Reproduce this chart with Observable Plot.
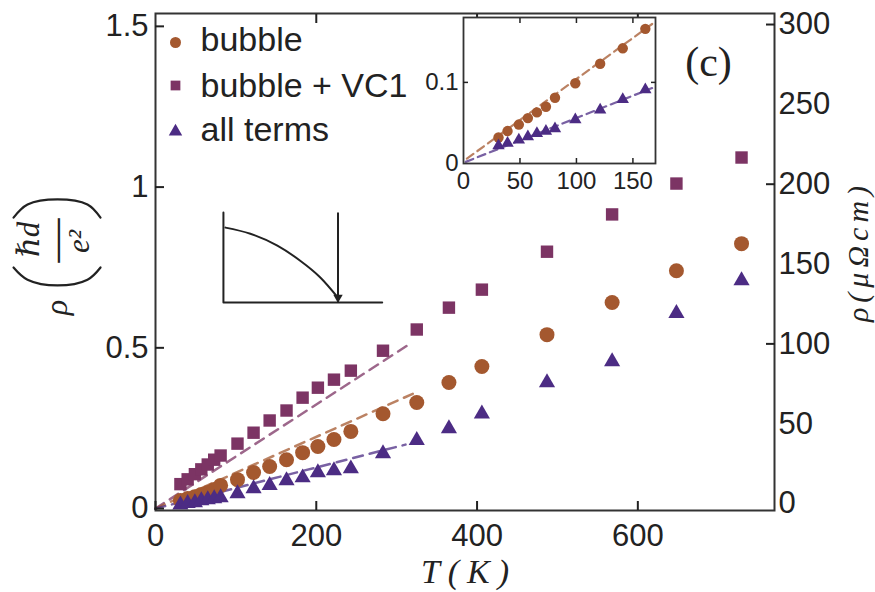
<!DOCTYPE html>
<html><head><meta charset="utf-8">
<script src="https://cdn.jsdelivr.net/npm/d3@7"></script>
<script src="https://cdn.jsdelivr.net/npm/@observablehq/plot@0.6"></script>
<style>
html,body{margin:0;padding:0;background:#fff;}
#wrap{position:relative;width:875px;height:592px;overflow:hidden;background:#fff;}
#main{position:absolute;left:0;top:0;}
#inset{position:absolute;left:423px;top:15px;}
</style></head><body><div id="wrap"><div id="main"></div><div id="inset"></div></div>
<script>
// ---- main panel data (T in K, rho in hd/e^2) ----
const temperature = [31, 40, 49, 57, 65, 73, 81, 102, 122, 142, 163, 183, 202, 222, 243, 283, 325, 365, 406, 487, 568, 648, 729];
const bubbleVC1 = [0.076, 0.091, 0.107, 0.122, 0.137, 0.152, 0.165, 0.202, 0.236, 0.274, 0.305, 0.345, 0.376, 0.401, 0.429, 0.491, 0.557, 0.625, 0.681, 0.799, 0.915, 1.011, 1.092];
const bubble = [0.025, 0.031, 0.037, 0.044, 0.050, 0.059, 0.072, 0.090, 0.112, 0.131, 0.152, 0.174, 0.193, 0.215, 0.240, 0.295, 0.330, 0.392, 0.442, 0.541, 0.641, 0.740, 0.824];
const allTerms = [0.012, 0.016, 0.019, 0.025, 0.028, 0.031, 0.034, 0.047, 0.062, 0.072, 0.087, 0.096, 0.112, 0.118, 0.124, 0.171, 0.212, 0.249, 0.295, 0.392, 0.457, 0.607, 0.709];
// dashed linear fits (end points)
const fitBubbleVC1 = [{T: 0, rho: 0}, {T: 315, rho: 0.51}];
const fitBubble = [{T: 0, rho: 0}, {T: 320, rho: 0.357}];
const fitAllTerms = [{T: 0, rho: 0}, {T: 311, rho: 0.199}];

// ---- inset data ----
const insetTemperature = [31, 39, 49, 57, 65, 73, 81, 99, 121, 141, 161];
const insetBubble = [0.032, 0.040, 0.048, 0.056, 0.063, 0.070, 0.081, 0.099, 0.123, 0.142, 0.166];
const insetAllTerms = [0.022, 0.025, 0.029, 0.033, 0.037, 0.040, 0.043, 0.054, 0.066, 0.079, 0.091];
const insetFitBubble = [{T: 3, rho: 0.006}, {T: 168, rho: 0.173}];
const insetFitAllTerms = [{T: 2, rho: 0.002}, {T: 167, rho: 0.093}];

// ---- ticks ----
const xTicks = [0, 200, 400, 600];
const yTicks = [0, 0.5, 1, 1.5];
const rightTicks = [0, 50, 100, 150, 200, 250, 300];
const rightMajorTicks = [100, 200, 300];
const rightZero = 0.0156, rightStep = 0.004967; // right axis (μΩcm) in left-axis units
const insetXTicks = [0, 50, 100, 150];
const insetYTicks = [0, 0.1];

// ---- legend ----
const legendLabels = ["bubble", "bubble + VC1", "all terms"];
const legendSymbols = ["circle", "square", "triangle"];

// ---- schematic sketch inside the main panel ----
const schematicFrame = [{T: 84.5, rho: 0.921}, {T: 84.5, rho: 0.641}, {T: 282, rho: 0.641}];
const schematicCurve = [{T: 87, rho: 0.874}, {T: 118, rho: 0.855}, {T: 151.6, rho: 0.818}, {T: 180, rho: 0.771}, {T: 205, rho: 0.719}, {T: 227, rho: 0.656}];
const schematicArrow = [{T: 227, top: 0.921, tip: 0.641}];

// ---- large delimiters of the left axis title (drawn as arcs, left of the frame) ----
const delimiterTop = [{T: -176.6, rho: 0.905}, {T: -159.2, rho: 0.946}, {T: -121.9, rho: 0.962}, {T: -84.6, rho: 0.946}, {T: -68.4, rho: 0.905}];
const delimiterBottom = [{T: -176.6, rho: 0.750}, {T: -159.2, rho: 0.712}, {T: -121.9, rho: 0.694}, {T: -84.6, rho: 0.712}, {T: -68.4, rho: 0.750}];

const colors = {bubble: "#a4582f", vc1: "#7c3464", all: "#4c2c84"};
const ink = "#222";

const mainRows = temperature.map((T, i) => ({T, bubble: bubble[i], vc1: bubbleVC1[i], all: allTerms[i]}));
const insetRows = insetTemperature.map((T, i) => ({T, bubble: insetBubble[i], all: insetAllTerms[i]}));
const toLeft = v => rightZero + v * rightStep;

const legendColors = [colors.bubble, colors.vc1, colors.all];
const legendMarkerDy = [29, 72, 118];
const legendTextDy = [27, 73, 117];
const legendR = [5.5, 5.5, 5];

const serif = "Liberation Serif, DejaVu Serif, serif";
// render hook that widens math-style titles (letter spacing)
const spaced = px => function (index, scales, values, dimensions, context, next) {
  const g = next(index, scales, values, dimensions, context);
  if (g) g.setAttribute("letter-spacing", px + "px");
  return g;
};

const main = Plot.plot({
  width: 875, height: 592,
  marginLeft: 155, marginRight: 101, marginTop: 13, marginBottom: 82,
  x: {domain: [0, 770]},
  y: {domain: [-0.006, 1.540]},
  style: {fontFamily: "Liberation Sans, Arial, sans-serif", fontSize: "31px", color: ink, background: "white", overflow: "visible"},
  marks: [
    Plot.line(fitBubbleVC1, {x: "T", y: "rho", stroke: colors.vc1, strokeWidth: 2.5, strokeDasharray: "10,7", strokeOpacity: 0.75}),
    Plot.line(fitBubble, {x: "T", y: "rho", stroke: colors.bubble, strokeWidth: 2.5, strokeDasharray: "10,7", strokeOpacity: 0.75}),
    Plot.line(fitAllTerms, {x: "T", y: "rho", stroke: colors.all, strokeWidth: 2.5, strokeDasharray: "10,7", strokeOpacity: 0.75}),
    Plot.dot(mainRows, {x: "T", y: "vc1", symbol: "square", r: 7, fill: colors.vc1}),
    Plot.dot(mainRows, {x: "T", y: "bubble", symbol: "circle", r: 7.5, fill: colors.bubble}),
    Plot.dot(mainRows, {x: "T", y: "all", symbol: "triangle", r: 6, fill: colors.all}),
    // schematic
    Plot.line(schematicFrame, {x: "T", y: "rho", stroke: ink, strokeWidth: 2}),
    Plot.line(schematicCurve, {x: "T", y: "rho", curve: "natural", stroke: ink, strokeWidth: 2}),
    Plot.link(schematicArrow, {x1: "T", x2: "T", y1: "top", y2: "tip", stroke: ink, strokeWidth: 2}),
    Plot.dot(schematicArrow, {x: "T", y: "tip", symbol: "triangle", rotate: 180, r: 3.5, dy: -5, fill: ink}),
    // legend
    ...legendLabels.map((label, i) => Plot.dot([label], {frameAnchor: "top-left", dx: 20, dy: legendMarkerDy[i], symbol: legendSymbols[i], r: legendR[i], fill: legendColors[i]})),
    ...legendLabels.map((label, i) => Plot.text([label], {frameAnchor: "top-left", dx: 45, dy: legendTextDy[i], text: d => d, textAnchor: "start", lineAnchor: "middle", fontSize: 34, fill: ink})),
    // panel tag
    Plot.text(["(c)"], {frameAnchor: "top-right", dx: -66, dy: 49, text: d => d, fontFamily: serif, fontSize: 42, textAnchor: "middle", lineAnchor: "middle", fill: ink}),
    // frame and axes
    Plot.frame({stroke: "#333", strokeWidth: 2}),
    Plot.axisY(yTicks, {anchor: "left", tickSize: -9, tickPadding: 16, tickFormat: d => String(d), label: null, strokeWidth: 2}),
    Plot.axisX(xTicks, {anchor: "bottom", tickSize: -9, tickPadding: 22, tickFormat: d => String(d), label: null, strokeWidth: 2}),
    Plot.axisX(xTicks.filter(d => d > 0), {anchor: "top", tickSize: -9, tickFormat: () => "", label: null, strokeWidth: 2}),
    Plot.axisY(rightTicks.map(toLeft), {anchor: "right", tickSize: 0, tickPadding: 4, tickFormat: d => String(Math.round((d - rightZero) / rightStep)), label: null}),
    Plot.axisY(rightMajorTicks.map(toLeft), {anchor: "right", tickSize: -9, tickFormat: () => "", label: null, strokeWidth: 2}),
    // axis titles
    Plot.text(["T(K)"], {frameAnchor: "bottom", dx: 4, dy: 62, text: d => d, fontFamily: serif, fontStyle: "italic", fontSize: 34, textAnchor: "middle", lineAnchor: "middle", fill: ink, render: spaced(8)}),
    Plot.text(["ρ(μΩcm)"], {frameAnchor: "top-right", dx: 84, dy: 238, rotate: -90, text: d => d, fontFamily: serif, fontStyle: "italic", fontSize: 30, textAnchor: "middle", lineAnchor: "middle", fill: ink, render: spaced(5)}),
    Plot.text(["ρ"], {frameAnchor: "top-left", dx: -99, dy: 294, rotate: -90, text: d => d, fontFamily: serif, fontStyle: "italic", fontSize: 32, textAnchor: "middle", lineAnchor: "middle", fill: ink}),
    Plot.line(delimiterTop, {x: "T", y: "rho", curve: "catmull-rom", stroke: ink, strokeWidth: 2.2}),
    Plot.line(delimiterBottom, {x: "T", y: "rho", curve: "catmull-rom", stroke: ink, strokeWidth: 2.2}),
    Plot.text(["ℏd"], {frameAnchor: "top-left", dx: -126, dy: 226, rotate: -90, text: d => d, fontFamily: serif, fontStyle: "italic", fontSize: 31, textAnchor: "middle", lineAnchor: "middle", fill: ink}),
    Plot.text(["—"], {frameAnchor: "top-left", dx: -101, dy: 227, rotate: -90, text: d => d, fontFamily: serif, fontSize: 44, textAnchor: "middle", lineAnchor: "middle", fill: ink}),
    Plot.text(["e²"], {frameAnchor: "top-left", dx: -76, dy: 228, rotate: -90, text: d => d, fontFamily: serif, fontStyle: "italic", fontSize: 31, textAnchor: "middle", lineAnchor: "middle", fill: ink})
  ]
});
document.getElementById("main").append(main);

const inset = Plot.plot({
  width: 236, height: 178,
  marginLeft: 40, marginRight: 4, marginTop: 2, marginBottom: 30,
  x: {domain: [0, 170]},
  y: {domain: [0, 0.18]},
  style: {fontFamily: "Liberation Sans, Arial, sans-serif", fontSize: "24px", color: ink, background: "transparent", overflow: "visible"},
  marks: [
    Plot.frame({fill: "white"}),
    Plot.line(insetFitBubble, {x: "T", y: "rho", stroke: colors.bubble, strokeWidth: 2.2, strokeDasharray: "8,5", strokeOpacity: 0.75}),
    Plot.line(insetFitAllTerms, {x: "T", y: "rho", stroke: colors.all, strokeWidth: 2.2, strokeDasharray: "8,5", strokeOpacity: 0.75}),
    Plot.dot(insetRows, {x: "T", y: "bubble", symbol: "circle", r: 5.2, fill: colors.bubble}),
    Plot.dot(insetRows, {x: "T", y: "all", symbol: "triangle", r: 4.6, fill: colors.all}),
    Plot.frame({stroke: "#333", strokeWidth: 1.8}),
    Plot.axisX(insetXTicks, {anchor: "bottom", tickSize: 0, tickPadding: 8, tickFormat: d => String(d), label: null}),
    Plot.axisX(insetXTicks.filter(d => d > 0), {anchor: "bottom", tickSize: -5, tickFormat: () => "", label: null, strokeWidth: 1.5}),
    Plot.axisX(insetXTicks.filter(d => d > 0), {anchor: "top", tickSize: -5, tickFormat: () => "", label: null, strokeWidth: 1.5}),
    Plot.axisY(insetYTicks, {anchor: "left", tickSize: 0, tickPadding: 5, tickFormat: d => String(d), label: null}),
    Plot.axisY(insetYTicks.filter(d => d > 0), {anchor: "left", tickSize: -5, tickFormat: () => "", label: null, strokeWidth: 1.5}),
    Plot.axisY(insetYTicks.filter(d => d > 0), {anchor: "right", tickSize: -5, tickFormat: () => "", label: null, strokeWidth: 1.5})
  ]
});
document.getElementById("inset").append(inset);
</script></body></html>
